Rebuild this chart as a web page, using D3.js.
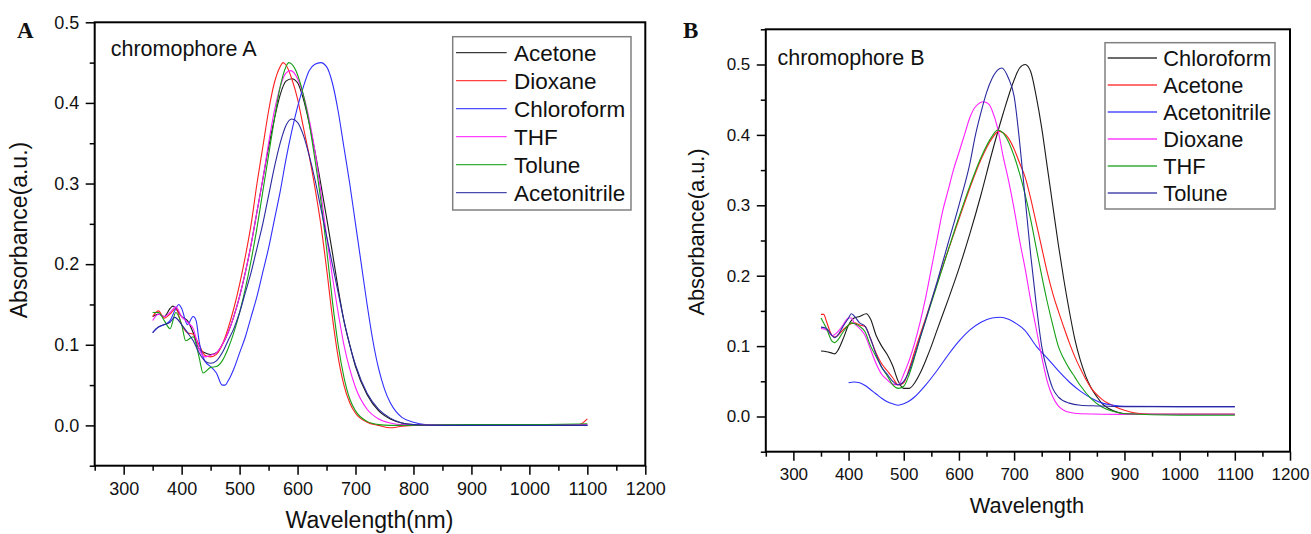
<!DOCTYPE html>
<html><head><meta charset="utf-8">
<script src="https://cdn.jsdelivr.net/npm/d3@7/dist/d3.min.js"></script>
<style>
body{margin:0;background:#fff}
svg{display:block}
text{font-family:"Liberation Sans",Arial,Helvetica,sans-serif;fill:#111}
</style>
</head><body>
<svg id="chart" width="1311" height="534"></svg>
<script>
// ---------- Tick labels ----------
const xMajorTicks = [300,400,500,600,700,800,900,1000,1100,1200];
const xMinorTicks = [250,350,450,550,650,750,850,950,1050,1150];
const aYMajorTicks = [0,0.1,0.2,0.3,0.4,0.5];
const aYMinorTicks = [-0.05,0.05,0.15,0.25,0.35,0.45];
const bYMajorTicks = [0,0.1,0.2,0.3,0.4,0.5];
const bYMinorTicks = [-0.05,0.05,0.15,0.25,0.35,0.45,0.55];

// ---------- Panel A: chromophore A ----------
const aNames = ["Acetone","Dioxane","Chloroform","THF","Tolune","Acetonitrile"];
const aAcetone = [[350,0.135],[360,0.138],[370,0.135],[380,0.145],[385,0.148],[390,0.145],[400,0.135],[410,0.13],[420,0.115],[430,0.095],[440,0.09],[450,0.088],[460,0.09],[470,0.1],[480,0.115],[490,0.135],[500,0.16],[510,0.19],[520,0.225],[530,0.265],[540,0.305],[550,0.345],[560,0.38],[570,0.41],[580,0.427],[590,0.43],[600,0.425],[610,0.405],[620,0.375],[630,0.34],[640,0.3],[650,0.258],[660,0.215],[670,0.17],[680,0.13],[690,0.1],[700,0.073],[720,0.038],[740,0.018],[760,0.008],[780,0.003],[800,0.001],[850,0],[900,0],[1000,0],[1100,0]];
const aDioxane = [[350,0.135],[360,0.142],[370,0.133],[380,0.138],[390,0.145],[400,0.125],[410,0.115],[420,0.113],[430,0.1],[440,0.087],[450,0.085],[460,0.088],[470,0.1],[480,0.12],[490,0.145],[500,0.175],[510,0.21],[520,0.25],[530,0.3],[540,0.345],[550,0.39],[560,0.425],[570,0.445],[575,0.45],[580,0.447],[590,0.43],[600,0.405],[610,0.37],[620,0.335],[630,0.295],[640,0.25],[650,0.195],[660,0.135],[670,0.085],[680,0.05],[690,0.028],[700,0.015],[720,0.004],[740,0],[760,-0.003],[780,-0.001],[800,0],[900,0],[1000,0],[1080,0],[1090,0.002],[1100,0.008]];
const aChloroform = [[350,0.115],[360,0.122],[370,0.125],[380,0.13],[390,0.145],[395,0.15],[400,0.145],[410,0.125],[420,0.135],[425,0.13],[430,0.105],[440,0.08],[450,0.073],[460,0.065],[470,0.05],[475,0.05],[480,0.055],[490,0.07],[500,0.09],[510,0.11],[520,0.135],[530,0.16],[540,0.19],[550,0.22],[560,0.255],[570,0.29],[580,0.33],[590,0.365],[600,0.395],[610,0.42],[620,0.44],[630,0.448],[640,0.45],[650,0.445],[660,0.425],[670,0.39],[680,0.345],[690,0.3],[700,0.25],[710,0.2],[720,0.15],[730,0.105],[740,0.07],[750,0.045],[760,0.028],[770,0.017],[780,0.01],[800,0.004],[820,0.001],[850,0],[1100,0]];
const aTHF = [[350,0.13],[360,0.138],[370,0.135],[380,0.14],[390,0.147],[400,0.135],[410,0.128],[420,0.12],[430,0.095],[440,0.085],[450,0.087],[460,0.09],[470,0.1],[480,0.115],[490,0.135],[500,0.16],[510,0.19],[520,0.225],[530,0.265],[540,0.305],[550,0.35],[560,0.39],[570,0.42],[580,0.437],[588,0.44],[600,0.43],[610,0.41],[620,0.38],[630,0.34],[640,0.29],[650,0.235],[660,0.185],[670,0.14],[680,0.1],[690,0.07],[700,0.047],[720,0.02],[740,0.008],[760,0.003],[780,0.001],[800,0.001],[900,0.001],[1000,0.001],[1100,0.001]];
const aTolune = [[350,0.14],[360,0.14],[370,0.13],[380,0.12],[390,0.14],[400,0.125],[407,0.105],[420,0.11],[430,0.085],[437,0.065],[450,0.072],[460,0.073],[470,0.08],[480,0.095],[490,0.115],[500,0.14],[510,0.17],[520,0.205],[530,0.245],[540,0.29],[550,0.335],[560,0.38],[570,0.42],[580,0.445],[585,0.45],[590,0.448],[600,0.435],[610,0.41],[620,0.375],[630,0.33],[640,0.28],[650,0.22],[660,0.155],[670,0.1],[680,0.06],[690,0.033],[700,0.018],[720,0.005],[740,0.001],[760,0],[900,0.001],[1000,0.001],[1100,0.002]];
const aAcetonitrile = [[350,0.115],[360,0.122],[370,0.125],[380,0.128],[388,0.134],[400,0.125],[410,0.115],[420,0.105],[430,0.09],[440,0.08],[450,0.077],[460,0.08],[470,0.09],[480,0.105],[490,0.12],[500,0.14],[510,0.165],[520,0.19],[530,0.22],[540,0.25],[550,0.285],[560,0.32],[570,0.35],[580,0.372],[590,0.38],[600,0.376],[610,0.36],[620,0.335],[630,0.305],[640,0.27],[650,0.235],[660,0.2],[670,0.165],[680,0.13],[690,0.1],[700,0.075],[720,0.04],[740,0.02],[760,0.009],[780,0.003],[800,0.001],[850,0],[1100,0]];

// ---------- Panel B: chromophore B ----------
const bNames = ["Chloroform","Acetone","Acetonitrile","Dioxane","THF","Tolune"];
const bChloroform = [[350,0.093],[360,0.092],[370,0.09],[375,0.089],[380,0.093],[390,0.11],[400,0.13],[410,0.14],[420,0.142],[432,0.146],[440,0.138],[450,0.115],[460,0.1],[470,0.088],[480,0.072],[490,0.05],[500,0.04],[510,0.04],[520,0.048],[530,0.062],[540,0.08],[550,0.1],[560,0.122],[580,0.165],[600,0.21],[620,0.26],[640,0.315],[660,0.375],[680,0.43],[700,0.478],[710,0.495],[720,0.5],[730,0.49],[740,0.455],[750,0.41],[760,0.355],[770,0.3],[780,0.245],[790,0.195],[800,0.15],[810,0.11],[820,0.08],[830,0.057],[840,0.04],[850,0.028],[860,0.018],[880,0.008],[900,0.004],[1000,0.003],[1100,0.003]];
const bAcetone = [[350,0.145],[355,0.145],[360,0.135],[370,0.115],[375,0.113],[380,0.115],[390,0.123],[400,0.13],[410,0.133],[420,0.13],[430,0.128],[440,0.11],[450,0.09],[460,0.075],[470,0.065],[480,0.055],[490,0.045],[500,0.048],[510,0.068],[520,0.093],[530,0.117],[540,0.14],[560,0.188],[580,0.235],[600,0.28],[620,0.325],[640,0.365],[660,0.395],[672,0.405],[680,0.403],[690,0.395],[700,0.38],[710,0.36],[720,0.34],[730,0.31],[740,0.275],[750,0.24],[760,0.205],[770,0.175],[780,0.15],[790,0.127],[800,0.105],[810,0.085],[820,0.068],[830,0.053],[840,0.04],[850,0.031],[860,0.024],[880,0.015],[900,0.009],[920,0.005],[950,0.003],[1000,0.003],[1100,0.003]];
const bAcetonitrile = [[400,0.048],[410,0.049],[420,0.048],[430,0.044],[440,0.038],[450,0.032],[460,0.026],[470,0.021],[480,0.018],[490,0.016],[500,0.018],[510,0.022],[520,0.028],[540,0.045],[560,0.065],[580,0.087],[600,0.107],[620,0.123],[640,0.134],[660,0.14],[675,0.141],[690,0.138],[700,0.134],[720,0.122],[740,0.1],[760,0.083],[780,0.065],[800,0.049],[820,0.036],[840,0.026],[860,0.019],[880,0.016],[900,0.0145],[1000,0.014],[1100,0.014]];
const bDioxane = [[350,0.125],[360,0.123],[370,0.115],[380,0.12],[390,0.13],[400,0.14],[405,0.14],[410,0.133],[420,0.125],[430,0.115],[440,0.095],[450,0.075],[460,0.06],[470,0.052],[480,0.046],[490,0.045],[500,0.06],[510,0.08],[520,0.105],[530,0.135],[540,0.17],[550,0.21],[560,0.25],[570,0.29],[580,0.32],[590,0.35],[600,0.375],[610,0.4],[620,0.425],[630,0.44],[645,0.447],[655,0.443],[660,0.435],[670,0.41],[680,0.37],[690,0.335],[700,0.295],[710,0.25],[720,0.21],[730,0.165],[740,0.125],[750,0.085],[760,0.05],[770,0.028],[780,0.015],[790,0.009],[800,0.006],[820,0.004],[900,0.003],[1000,0.003],[1100,0.003]];
const bTHF = [[350,0.14],[360,0.125],[370,0.107],[375,0.105],[380,0.108],[390,0.12],[400,0.13],[405,0.133],[410,0.132],[420,0.128],[430,0.12],[440,0.1],[450,0.085],[460,0.07],[470,0.058],[480,0.045],[490,0.04],[500,0.043],[510,0.06],[520,0.085],[530,0.112],[540,0.137],[560,0.186],[580,0.235],[600,0.283],[620,0.328],[640,0.368],[660,0.398],[670,0.407],[680,0.403],[690,0.39],[700,0.37],[710,0.345],[720,0.315],[730,0.28],[740,0.24],[750,0.2],[760,0.163],[770,0.13],[780,0.1],[790,0.082],[800,0.068],[810,0.056],[820,0.044],[840,0.025],[860,0.013],[880,0.007],[900,0.004],[1000,0.002],[1100,0.002]];
const bTolune = [[350,0.127],[360,0.125],[370,0.115],[375,0.112],[380,0.115],[390,0.128],[400,0.14],[405,0.146],[410,0.143],[420,0.133],[430,0.128],[440,0.11],[450,0.088],[460,0.07],[470,0.06],[480,0.05],[490,0.045],[500,0.05],[510,0.065],[520,0.088],[530,0.113],[540,0.138],[560,0.19],[580,0.245],[600,0.3],[620,0.36],[630,0.4],[640,0.432],[650,0.46],[660,0.48],[670,0.492],[678,0.495],[690,0.48],[700,0.455],[710,0.39],[720,0.31],[730,0.23],[740,0.16],[750,0.1],[760,0.065],[770,0.04],[780,0.028],[800,0.019],[820,0.016],[850,0.015],[900,0.014],[1000,0.014],[1100,0.014]];

// ---------- Colours ----------
const colorBlack = "#1a1a1a", colorRed = "#ff1f1f", colorBlue = "#2f2fff",
      colorMagenta = "#ff1fff", colorGreen = "#15a015", colorNavy = "#2a2aa0";

const panels = [
  {
    letter:"A", title:"chromophore A", xTitle:"Wavelength(nm)", yTitle:"Absorbance(a.u.)",
    left:94.7, right:645.3, top:22.3, bottom:465.7, yDomain:[-0.05,0.5],
    yMajor:aYMajorTicks, yMinor:aYMinorTicks,
    series:[aAcetone,aDioxane,aChloroform,aTHF,aTolune,aAcetonitrile],
    names:aNames, colors:[colorBlack,colorRed,colorBlue,colorMagenta,colorGreen,colorNavy],
    tickFont:18, titleFont:23, titleSize:21.5, legendFont:22.5,
    letterX:17, letterY:38, titleX:110.7, titleY:56,
    xTitleX:369.5, xTitleY:528, yTitleX:27, yTitleY:230,
    legend:{x0:452.7,x1:631,y0:36.7,y1:210,lx0:456,lx1:506.7,tx:514,ly:52.7,dy:28},
    xLabPad:7.5
  },
  {
    letter:"B", title:"chromophore B", xTitle:"Wavelength", yTitle:"Absorbance(a.u.)",
    left:765.8, right:1290, top:29.3, bottom:451.7, yDomain:[-0.05,0.55],
    yMajor:bYMajorTicks, yMinor:bYMinorTicks,
    series:[bChloroform,bAcetone,bAcetonitrile,bDioxane,bTHF,bTolune],
    names:bNames, colors:[colorBlack,colorRed,colorBlue,colorMagenta,colorGreen,colorNavy],
    tickFont:17, titleFont:21.8, titleSize:21.5, legendFont:21.8,
    letterX:683, letterY:38, titleX:777.5, titleY:65,
    xTitleX:1027, xTitleY:513, yTitleX:704, yTitleY:232,
    legend:{x0:1105,x1:1275,y0:42.7,y1:209,lx0:1107.7,lx1:1157,tx:1163.3,ly:58,dy:27},
    xLabPad:7.2
  }
];

const svg = d3.select("#chart");

panels.forEach(p => {
  const x = d3.scaleLinear().domain([250,1200]).range([p.left,p.right]);
  const y = d3.scaleLinear().domain(p.yDomain).range([p.bottom,p.top]);
  const g = svg.append("g");

  // minor ticks
  g.append("g").attr("transform",`translate(${p.left},0)`)
    .call(d3.axisLeft(y).tickValues(p.yMinor).tickSize(5).tickSizeOuter(0).tickFormat(""))
    .call(s=>{s.select(".domain").remove(); s.selectAll("line").attr("stroke","#000").attr("stroke-width",1.5);});
  g.append("g").attr("transform",`translate(0,${p.bottom})`)
    .call(d3.axisBottom(x).tickValues(xMinorTicks).tickSize(5).tickSizeOuter(0).tickFormat(""))
    .call(s=>{s.select(".domain").remove(); s.selectAll("line").attr("stroke","#000").attr("stroke-width",1.5);});

  // major ticks with labels
  const ya = g.append("g").attr("transform",`translate(${p.left},0)`)
    .call(d3.axisLeft(y).tickValues(p.yMajor).tickSize(9).tickPadding(6.5).tickSizeOuter(0).tickFormat(d3.format(".1f")));
  ya.select(".domain").remove();
  ya.selectAll("line").attr("stroke","#000").attr("stroke-width",1.5);
  ya.selectAll("text").attr("font-size",p.tickFont).attr("font-family",null).attr("fill","#111");

  const xa = g.append("g").attr("transform",`translate(0,${p.bottom})`)
    .call(d3.axisBottom(x).tickValues(xMajorTicks).tickSize(9).tickPadding(p.xLabPad).tickSizeOuter(0).tickFormat(d3.format("d")));
  xa.select(".domain").remove();
  xa.selectAll("line").attr("stroke","#000").attr("stroke-width",1.5);
  xa.selectAll("text").attr("font-size",p.tickFont).attr("font-family",null).attr("fill","#111");

  // frame
  g.append("rect").attr("x",p.left).attr("y",p.top)
    .attr("width",p.right-p.left).attr("height",p.bottom-p.top)
    .attr("fill","none").attr("stroke","#000").attr("stroke-width",2);

  // curves
  const line = d3.line().x(d=>x(d[0])).y(d=>y(d[1])).curve(d3.curveMonotoneX);
  p.series.forEach((s,i)=>{
    g.append("path").datum(s).attr("d",line)
      .attr("fill","none").attr("stroke",p.colors[i]).attr("stroke-width",1.1)
      .attr("stroke-linejoin","round");
  });

  // legend
  const L = p.legend;
  g.append("rect").attr("x",L.x0).attr("y",L.y0).attr("width",L.x1-L.x0).attr("height",L.y1-L.y0)
    .attr("fill","#fff").attr("stroke","#808080").attr("stroke-width",1.5);
  p.names.forEach((n,i)=>{
    const yy = L.ly + i*L.dy;
    g.append("line").attr("x1",L.lx0).attr("x2",L.lx1).attr("y1",yy).attr("y2",yy)
      .attr("stroke",p.colors[i]).attr("stroke-width",1.3).attr("opacity",0.85);
    g.append("text").attr("x",L.tx).attr("y",yy).attr("dy","0.36em")
      .attr("font-size",p.legendFont).text(n);
  });

  // titles
  g.append("text").attr("x",p.titleX).attr("y",p.titleY).attr("font-size",p.titleSize).text(p.title);
  g.append("text").attr("x",p.xTitleX).attr("y",p.xTitleY).attr("text-anchor","middle")
    .attr("font-size",p.titleFont).text(p.xTitle);
  g.append("text").attr("transform",`translate(${p.yTitleX},${p.yTitleY}) rotate(-90)`)
    .attr("text-anchor","middle").attr("font-size",p.titleFont).text(p.yTitle);
  g.append("text").attr("x",p.letterX).attr("y",p.letterY)
    .style("font-family","'Liberation Serif','Times New Roman',serif").attr("font-weight","bold")
    .attr("font-size",23).attr("fill","#000").text(p.letter);
});
</script>
</body></html>
